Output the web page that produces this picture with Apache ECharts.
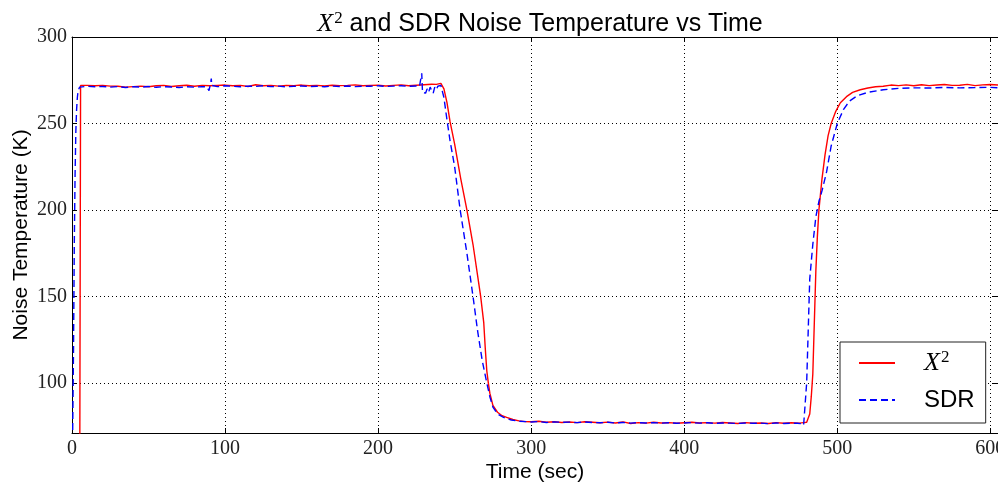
<!DOCTYPE html>
<html><head><meta charset="utf-8">
<script src="https://cdn.jsdelivr.net/npm/echarts@6/dist/echarts.min.js"></script>
<style>html,body{margin:0;padding:0;background:#fff}#c{width:998px;height:484px}</style>
</head><body><div id="c"></div>
<script>
// X^2 (red) series
const x2Time = [5,5.6,10,15,20,25,30,35,40,45,50,55,60,65,70,75,80,85,90,95,100,105,110,115,120,125,130,135,140,145,150,155,160,165,170,175,180,185,190,195,200,205,210,215,220,225,230,235,238,241,243,245,247,250,254,258,262,265,267,269,270,271,272,273,275,278,281,284,288,292,296,300,305,310,315,320,325,330,335,340,345,350,355,360,365,370,375,380,385,390,395,400,405,410,415,420,425,430,435,440,445,450,455,460,465,470,475,478,480,481,482,483,484,485,486,487,488,490,492,494,496,499,502,506,510,515,520,525,530,535,540,545,550,555,560,565,570,575,580,585,590,595,600,605];
const x2Temp = [20,272,272,271.8,272,271.6,271.5,271,271.3,271.6,271.2,271.8,272,271.4,271.8,272.1,271.5,272,271.8,272,272.2,271.8,272,271.4,272.4,271.8,272,271.6,272,271.9,272.2,271.8,272,271.7,272.1,271.9,272,272.3,271.8,272,272.1,271.7,272,272.3,271.8,272.1,272.4,272.7,272.6,273.2,270,262,251,238,218,200,180,162,150,135,120,107,100,94,87,83,81,80,78.8,78,77.6,77.5,77.8,77.2,77.5,77.1,77.4,77,77.5,77.2,76.9,77.3,76.8,77.4,76.5,77,76.7,77.2,76.8,77,76.6,76.9,77.2,76.8,77,76.7,77.1,76.8,76.5,77,76.6,76.8,76.5,77,76.6,76.9,76.7,77,77.2,78,82,92,105,135,165,185,200,218,232,243,250,257,262,265.5,268,269.5,270.5,271.2,271.5,272.2,271.9,272.3,271.8,272.4,271.9,272.2,272.5,272,272.1,272.6,271.9,272.3,272.5,272.2];
// SDR (blue dashed) series
const sdrTime = [0.3,1,1.5,2,2.5,3,3.5,4,5,10,15,20,25,30,35,40,45,50,55,60,65,70,75,80,85,88,89.5,90,90.5,91,91.3,92,95,100,105,110,115,120,125,130,135,140,145,150,155,160,165,170,175,180,185,190,195,200,205,210,215,220,225,227,228.5,229,231,232,233,234,235,236,237,238,239,240,241,243,245,247,250,253.6,258,262,265,268,271,273,275,278,282,287,292,300,305,310,315,320,325,330,335,340,345,350,355,360,365,370,375,380,385,390,395,400,405,410,415,420,425,430,435,440,445,450,455,460,465,470,474,476,478,479,480,481,482,484,486,488,490,493,496,500,504,508,513,520,530,540,550,560,570,580,590,600,605];
const sdrTemp = [60,120,180,220,245,258,265,269,271,271.5,271.2,271.4,271,271.3,270.8,271.2,271,271.4,270.9,271.3,271.1,270.8,271.2,271,271.3,271.2,269,268.5,273,276,272,271.5,271.3,271.8,271.5,271.2,271.6,271.4,271.8,271.3,271.6,271.2,271.5,271.7,271.3,271.5,271.2,271.6,271.4,271.7,271.3,271.6,271.5,271.8,271.4,271.6,271.8,271.5,271.7,271.3,279,268,267.5,270,268,271,269,267.5,271,269.5,271.5,272,272,265,252,240,225,200,175,150,130,113,100,92,86,82,80,78.5,77.8,77.4,77.6,77.1,77.4,77.2,77.3,77,77.4,77.1,76.9,77.2,76.8,77.1,76.7,77,76.8,77,76.7,76.9,76.6,76.8,77,76.7,76.9,76.6,76.8,76.7,76.5,76.8,76.6,76.7,76.4,76.8,76.5,76.7,76.6,76.4,75.5,76,100,130,160,180,196,205,211,222,237,250,258,263,266,268,269.5,270.3,270.6,270.5,270.8,270.6,270.7,270.9,270.6,270.8,270.8];
const xTicks = [0,100,200,300,400,500,600];
const yTicks = [100,150,200,250,300];

const zip = (a,b) => a.map((t,i)=>[t,b[i]]);
const serif = 'Liberation Serif';
const sans = 'Liberation Sans';
const chart = echarts.init(document.getElementById('c'), null, {renderer:'canvas'});
const grid = {left:72, right:0, top:37, bottom:51, containLabel:false, outerBoundsMode:'none'};
const gridLine = {show:true, lineStyle:{color:'#000', type:[1,3], width:1}};
chart.setOption({
  animation:false,
  backgroundColor:'#fff',
  title:{
    text:'{i|X}{s|2} {t|and SDR Noise Temperature vs Time}',
    left:535, textAlign:'center', top:5,
    textStyle:{fontFamily:sans, fontSize:25, fontWeight:'normal', color:'#000',
      rich:{i:{fontFamily:serif, fontStyle:'italic', fontSize:26, color:'#000'},
            s:{fontFamily:serif, fontSize:17, color:'#000', padding:[0,0,11,1]},
            t:{fontFamily:sans, fontSize:25, color:'#000'}}}
  },
  grid:grid,
  legend:{
    left:840, top:342, orient:'vertical',
    data:['X2','SDR'],
    itemWidth:36, itemHeight:14, itemGap:10,
    padding:[7,11,10,18],
    borderColor:'#222', borderWidth:1, backgroundColor:'#fff',
    itemStyle:{opacity:0},
    formatter: n => n==='X2' ? '{i|X}{s|2}' : '{n|SDR}',
    textStyle:{padding:[0,0,0,24], color:'#000', fontFamily:sans, fontSize:24, lineHeight:26,
      rich:{i:{fontFamily:serif, fontStyle:'italic', fontSize:26, color:'#000', lineHeight:26},
            s:{fontFamily:serif, fontSize:17, color:'#000', padding:[0,0,11,1], lineHeight:26},
            n:{fontFamily:sans, fontSize:24, color:'#000', lineHeight:26}}}
  },
  xAxis:[{
    type:'value', min:0, max:605, interval:100,
    name:'Time (sec)', nameLocation:'middle', nameGap:29, nameMoveOverlap:false,
    nameTextStyle:{fontFamily:sans, fontSize:21, color:'#000'},
    axisLine:{show:true, onZero:false, lineStyle:{color:'#000', width:1}},
    axisTick:{show:true, inside:true, length:5, lineStyle:{color:'#000'}},
    axisLabel:{fontFamily:serif, fontSize:20, color:'#222', margin:6, customValues:xTicks},
    splitLine:gridLine
  },{
    type:'value', min:0, max:605, interval:100, position:'top',
    axisLine:{show:true, onZero:false, lineStyle:{color:'#000', width:1}},
    axisTick:{show:true, inside:true, length:5, lineStyle:{color:'#000'}},
    axisLabel:{show:false}, splitLine:{show:false}
  }],
  yAxis:[{
    type:'value', min:71, max:300,
    name:'Noise Temperature (K)', nameLocation:'middle', nameGap:40, nameMoveOverlap:false,
    nameTextStyle:{fontFamily:sans, fontSize:21, color:'#000'},
    axisLine:{show:true, onZero:false, lineStyle:{color:'#000', width:1}},
    axisTick:{show:true, inside:true, length:5, lineStyle:{color:'#000'}, customValues:yTicks},
    axisLabel:{fontFamily:serif, fontSize:20, color:'#222', margin:5, customValues:yTicks},
    splitLine:gridLine
  },{
    type:'value', min:71, max:300, position:'right',
    axisLine:{show:true, onZero:false, lineStyle:{color:'#000', width:1}},
    axisTick:{show:true, inside:true, length:5, lineStyle:{color:'#000'}, customValues:yTicks},
    axisLabel:{show:false}, splitLine:{show:false}
  }],
  series:[{
    name:'X2', type:'line', data:zip(x2Time,x2Temp), symbol:'none', clip:true,
    lineStyle:{color:'#ff0000', width:1.4}, itemStyle:{color:'#ff0000'}, z:3
  },{
    name:'SDR', type:'line', data:zip(sdrTime,sdrTemp), symbol:'none', clip:true,
    lineStyle:{color:'#0000ff', width:1.4, type:[7,4]}, itemStyle:{color:'#0000ff'}, z:4
  }]
});
</script></body></html>
